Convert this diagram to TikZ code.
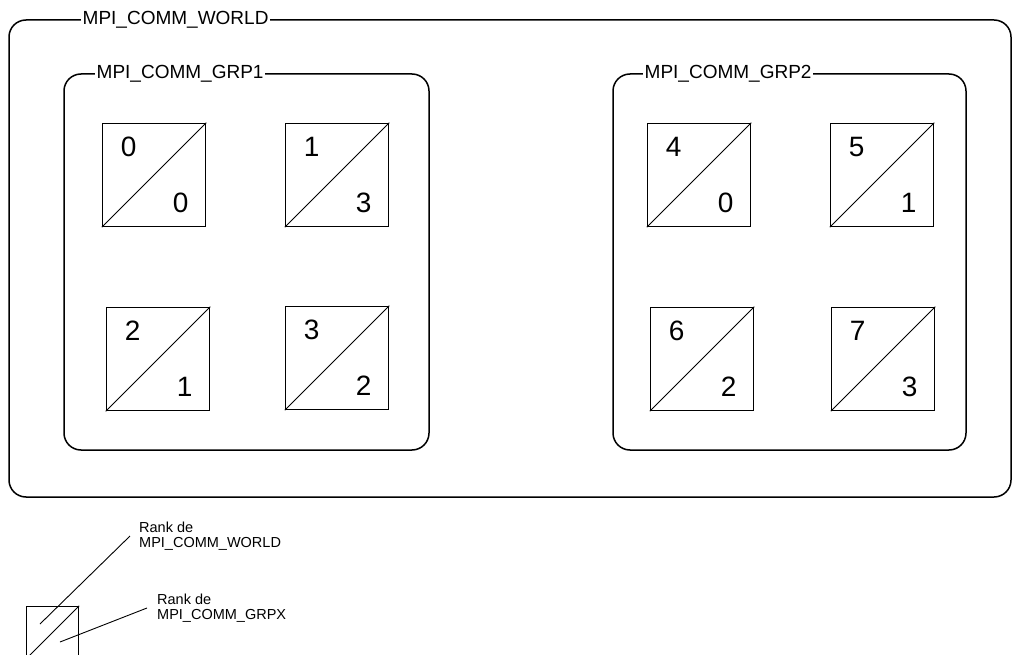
\documentclass[tikz,border=0pt]{standalone}
\usepackage{fontspec}
\setmainfont{Liberation Sans}
\begin{document}
\begin{tikzpicture}[x=1pt,y=-1pt,
  frame/.style={draw,line width=1.5pt,rounded corners=17pt},
  framelabel/.style={fill=white,inner sep=1.5pt,anchor=west,font=\fontsize{19}{22}\selectfont},
  rankbox/.style={draw,line width=1.5pt,minimum size=103pt,inner sep=0pt},
  diag/.style={line width=0.8pt},
  rank/.style={font=\fontsize{28}{32}\selectfont,inner sep=0pt},
  legendtext/.style={anchor=west,align=left,inner sep=0pt,font=\fontsize{14.5}{15}\selectfont},
  leader/.style={line width=0.9pt}]
\clip (0,0) rectangle (1012,655);

% communicators
\draw[frame] (9,20) rectangle (1011,497);
\node[framelabel] (world) at (81,20) {MPI\_COMM\_WORLD};
\draw[frame] (64,74) rectangle (429,450);
\node[framelabel] (grp1) at (95,74) {MPI\_COMM\_GRP1};
\draw[frame] (613,74) rectangle (966,450);
\node[framelabel] (grp2) at (643,74) {MPI\_COMM\_GRP2};

% processes: world rank (top left) and group rank (bottom right)
\foreach \n/\x/\y/\w/\g in {b0/102/123/0/0, b1/285/123/1/3, b2/106/307/2/1, b3/285/306/3/2,
                            b4/647/123/4/0, b5/830/123/5/1, b6/650/307/6/2, b7/831/307/7/3}{
  \node[rankbox] (\n) at (\x+52,\y+52) {};
  \draw[diag] (\n.south west) -- (\n.north east);
  \node[rank] at ([shift={(27,24)}]\n.north west) {\w};
  \node[rank] at ([shift={(79,80)}]\n.north west) {\g};
}

% legend
\node[rankbox,minimum size=52pt] (legend) at (52.5,632.5) {};
\draw[diag] (legend.south west) -- (legend.north east);
\node[legendtext] (t1) at (139,536) {Rank de\\MPI\_COMM\_WORLD};
\node[legendtext] (t2) at (157,608) {Rank de\\MPI\_COMM\_GRPX};
\coordinate (w) at (40,624);
\coordinate (g) at (60,642);
\draw[leader] (w) -- ([xshift=-9pt]t1.west);
\draw[leader] (g) -- ([xshift=-10pt]t2.west);
\end{tikzpicture}
\end{document}
